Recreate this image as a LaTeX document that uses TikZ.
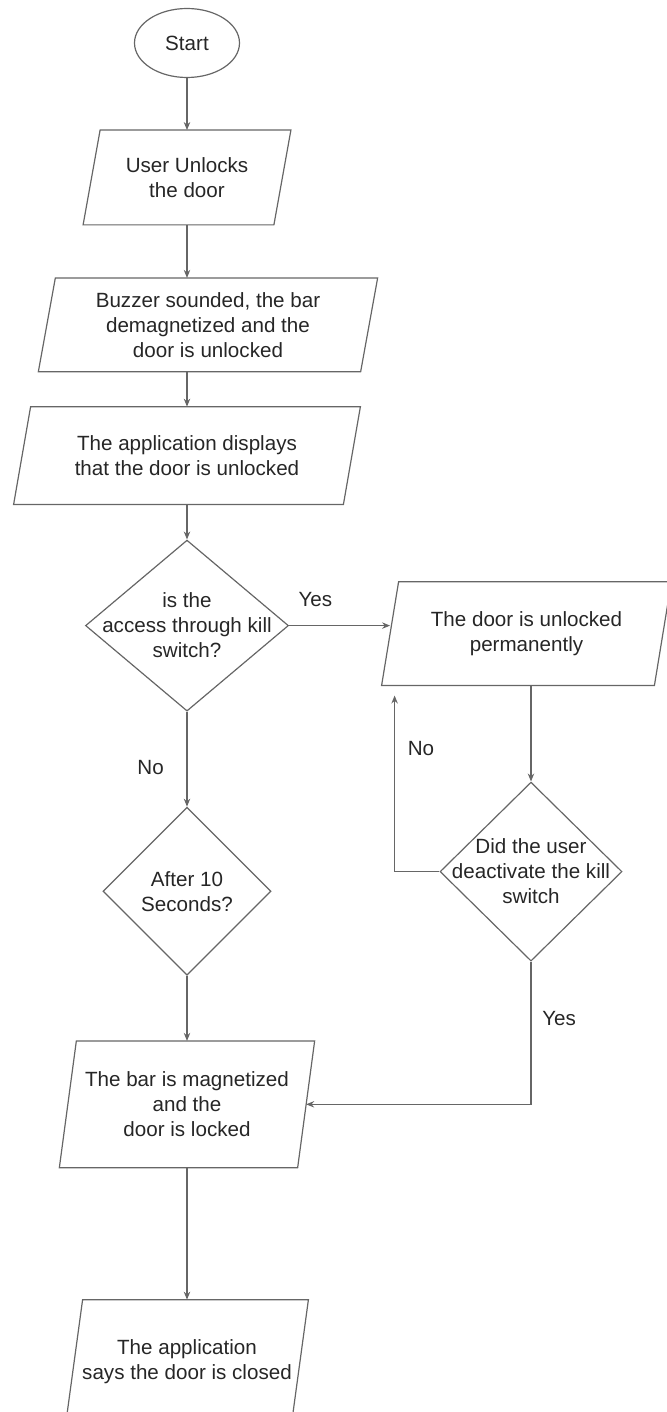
\documentclass[tikz,border=0pt]{standalone}
\usepackage{fontspec}
\setmainfont{Liberation Sans}
\usetikzlibrary{positioning,shapes.geometric,arrows.meta}

\begin{document}
\begin{tikzpicture}[
	font=\fontsize{10.3pt}{12.5pt}\selectfont,
	text=black!85,
	edge/.style={draw=black!60, line width=0.6pt},
	flow/.style={edge, -{Stealth[length=4pt,width=3.2pt]}},
	io/.style={inner sep=0pt, align=center},
	decision/.style={edge, diamond, inner sep=0pt},
	terminal/.style={edge, ellipse, inner sep=0pt}
	]
\useasboundingbox (-93.5pt,21.5pt) rectangle (240pt,-684.5pt);

\node[terminal, minimum width=52.5pt, minimum height=34.5pt] (start) at (0,0) {Start};
\node[io, below=26pt of start, minimum width=95pt, minimum height=47pt] (unlock) {User Unlocks\\ the door};
\node[io, below=26.5pt of unlock, xshift=10.5pt, minimum width=160.75pt, minimum height=46.5pt] (buzz) {Buzzer sounded, the bar\\ demagnetized and the\\ door is unlocked};
\node[io, below=17.5pt of buzz, xshift=-10.5pt, minimum width=164.5pt, minimum height=48.5pt] (app) {The application displays\\ that the door is unlocked};
\node[decision, below=17.5pt of app, minimum width=101.5pt, minimum height=85.5pt,
	label={[align=center]center:is the\\ access through kill\\ switch?}] (access) {};
\node[decision, below=47.5pt of access, minimum width=84pt, minimum height=84pt,
	label={[align=center]center:After 10\\ Seconds?}] (wait) {};
\node[io, below=32.5pt of wait, minimum width=118.75pt, minimum height=63pt] (lock) {The bar is magnetized\\ and the\\ door is locked};
\node[io, below=66pt of lock, minimum width=112.5pt, minimum height=62pt] (closed) {The application\\ says the door is closed};
\node[io, right=50.5pt of access, yshift=-4pt, minimum width=136pt, minimum height=51.5pt] (perm) {The door is unlocked\\ permanently};
\node[decision, below=48pt of perm, xshift=2.25pt, minimum width=91pt, minimum height=89.5pt,
	label={[align=center]center:Did the user\\ deactivate the kill\\ switch}] (kill) {};

% parallelogram outlines
\foreach \n in {unlock,buzz,app,perm,lock,closed}
	\draw[edge] ([xshift=-4.25pt]\n.south west) -- ([xshift=4.25pt]\n.north west)
		-- ([xshift=4.25pt]\n.north east) -- ([xshift=-4.25pt]\n.south east) -- cycle;

\draw[flow] (start) -- (unlock);
\draw[flow] (unlock.south) -- (unlock.south |- buzz.north);
\draw[flow] (app.north |- buzz.south) -- (app.north);
\draw[flow] (app) -- (access);
\draw[flow] (access.east) -- (access.east -| perm.west)
	node[pos=0.26, above=6pt] {Yes};
\draw[flow] (access) -- (wait)
	node[pos=0.59, left=8pt] {No};
\draw[flow] (perm.south -| kill.north) -- (kill.north);
\draw[flow, shorten >=5pt] (kill.west) -| ([xshift=2.25pt]perm.south west)
	node[pos=0.83, right=3pt] {No};
\draw[flow] (kill.south) |- (lock.east)
	node[pos=0.2, right=2pt] {Yes};
\draw[flow] (wait) -- (lock);
\draw[flow] (lock) -- (closed);
\end{tikzpicture}
\end{document}
